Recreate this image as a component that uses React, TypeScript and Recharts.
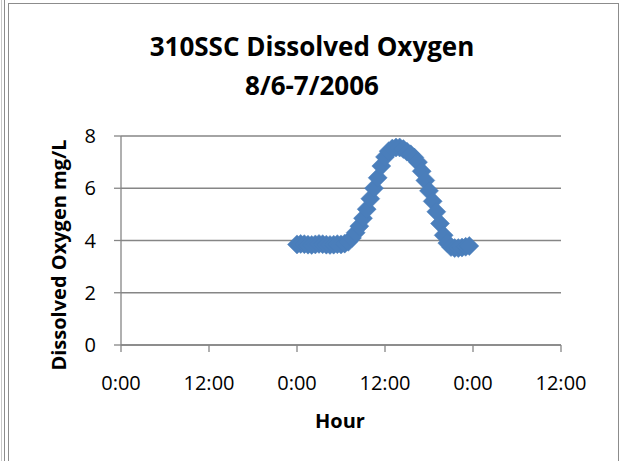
import { ScatterChart, Scatter, XAxis, YAxis, CartesianGrid } from 'recharts'

// Readings every 30 minutes, hours counted from the first 0:00 on the axis
const hours = [
  24, 24.5, 25, 25.5, 26, 26.5, 27, 27.5, 28, 28.5, 29, 29.5,
  30, 30.5, 31, 31.5, 32, 32.5, 33, 33.5, 34, 34.5, 35, 35.5,
  36, 36.5, 37, 37.5, 38, 38.5, 39, 39.5, 40, 40.5, 41, 41.5,
  42, 42.5, 43, 43.5, 44, 44.5, 45, 45.5, 46, 46.5, 47, 47.5,
]
const dissolvedOxygen = [
  3.85, 3.87, 3.86, 3.84, 3.83, 3.85, 3.87, 3.86, 3.84, 3.83, 3.84, 3.86,
  3.85, 3.88, 3.95, 4.1, 4.3, 4.55, 4.85, 5.2, 5.6, 6.0, 6.4, 6.85,
  7.2, 7.42, 7.52, 7.56, 7.56, 7.5, 7.4, 7.3, 7.18, 7.0, 6.65, 6.3,
  5.9, 5.5, 5.1, 4.65, 4.2, 3.9, 3.75, 3.71, 3.71, 3.73, 3.76, 3.79,
]
const xTicks = [0, 12, 24, 36, 48, 60]
const xTickLabels = ['0:00', '12:00', '0:00', '12:00', '0:00', '12:00']
const yTicks = [0, 2, 4, 6, 8]

const data = hours.map((h, i) => ({ hour: h, value: dissolvedOxygen[i] }))

const FONT = '"Open Sans", sans-serif'
const GRID = '#868686'
const BLUE = '#4a7ebb'

// Excel style square diamond marker
const Diamond = (props: any) => {
  const { cx, cy } = props
  const r = 9.5
  return (
    <polygon
      points={`${cx},${cy - r} ${cx + r},${cy} ${cx},${cy + r} ${cx - r},${cy}`}
      fill={BLUE}
      stroke={BLUE}
      strokeWidth={0.5}
    />
  )
}

export default function App() {
  return (
    <div style={{ position: 'absolute', left: 0, top: 0, width: 623, height: 461, background: '#fff', overflow: 'hidden', fontFamily: FONT }}>
      {/* frame lines */}
      <div style={{ position: 'absolute', left: 1, top: 0, width: 1, height: 461, background: '#c8c8c8' }} />
      <div style={{ position: 'absolute', left: 4, top: 0, width: 1, height: 461, background: '#8c8c8c' }} />
      <div style={{ position: 'absolute', left: 8, top: 3, width: 1, height: 458, background: '#8c8c8c' }} />
      <div style={{ position: 'absolute', left: 8, top: 3, width: 611, height: 1, background: '#8c8c8c' }} />
      <div style={{ position: 'absolute', left: 618, top: 3, width: 1, height: 458, background: '#8c8c8c' }} />

      <div style={{ position: 'absolute', left: 0, top: 27, width: 624, textAlign: 'center', fontWeight: 700, fontSize: 26, lineHeight: '39px', color: '#000' }}>
        310SSC Dissolved Oxygen
        <br />
        8/6-7/2006
      </div>

      <div style={{ position: 'absolute', left: 58, top: 255, transform: 'translate(-50%, -50%) rotate(-90deg)', whiteSpace: 'nowrap', fontWeight: 700, fontSize: 20, color: '#000' }}>
        Dissolved Oxygen mg/L
      </div>

      <div style={{ position: 'absolute', left: 340, top: 420, transform: 'translate(-50%, -50%)', whiteSpace: 'nowrap', fontWeight: 700, fontSize: 20, color: '#000' }}>
        Hour
      </div>

      <div style={{ position: 'absolute', left: 0, top: 0 }}>
        <ScatterChart width={623} height={461} margin={{ top: 136, right: 62, bottom: 76, left: 51 }}>
          <CartesianGrid horizontal vertical={false} stroke={GRID} strokeWidth={1.3} />
          <XAxis
            type="number"
            dataKey="hour"
            domain={[0, 60]}
            ticks={xTicks}
            tickFormatter={(v: number) => xTickLabels[xTicks.indexOf(v)]}
            height={40}
            stroke={GRID}
            strokeWidth={1.3}
            tickSize={7}
            tickMargin={24}
            tick={{ fill: '#000', fontSize: 20, fontFamily: FONT }}
            interval={0}
          />
          <YAxis
            type="number"
            dataKey="value"
            domain={[0, 8]}
            ticks={yTicks}
            width={70}
            stroke={GRID}
            strokeWidth={1.3}
            tickSize={7}
            tickMargin={18}
            tick={{ fill: '#000', fontSize: 20, fontFamily: FONT }}
            interval={0}
          />
          <Scatter data={data} shape={Diamond} isAnimationActive={false} />
        </ScatterChart>
      </div>
    </div>
  )
}
